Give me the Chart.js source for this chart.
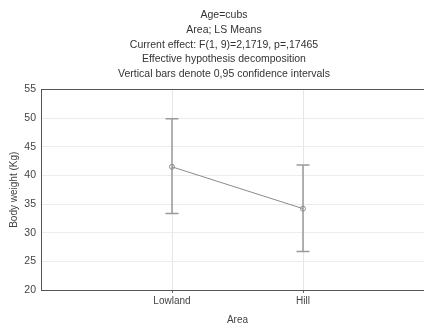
<!DOCTYPE html>
<html><head><meta charset="utf-8">
<script src="https://cdn.jsdelivr.net/npm/chart.js@4"></script>
<style>html,body{margin:0;padding:0;background:#fff;overflow:hidden;width:424px;height:326px}#wrap{width:448px;height:326px}</style>
</head><body><div id="wrap"><canvas id="c" width="448" height="326"></canvas></div>
<script>
const categories = ['Lowland', 'Hill'];
const means = [41.5, 34.2];
const lowerCI = [33.35, 26.7];
const upperCI = [49.9, 41.8];
const titleLines = ['Age=cubs', 'Area; LS Means', 'Current effect: F(1, 9)=2,1719, p=,17465', 'Effective hypothesis decomposition', 'Vertical bars denote 0,95 confidence intervals'];
const yTicks = [20, 25, 30, 35, 40, 45, 50, 55];

const font = 'Liberation Sans, Arial, sans-serif';
const gray = '#8a8a8a';
const datasets = [{
  data: categories.map((c, i) => ({x: i, y: means[i]})),
  borderColor: gray, borderWidth: 1, pointRadius: 2.5, pointBorderColor: gray,
  pointBackgroundColor: 'rgba(0,0,0,0)', pointBorderWidth: 1, showLine: true, order: 0
}];
categories.forEach((c, i) => {
  datasets.push({
    data: [{x: i, y: lowerCI[i]}, {x: i, y: upperCI[i]}],
    borderColor: '#9a9a9a', borderWidth: 1.5, showLine: true,
    pointStyle: 'line', pointRadius: 6.5, pointBorderColor: '#9a9a9a', pointBorderWidth: 1.5, order: 1
  });
});

new Chart(document.getElementById('c'), {
  type: 'scatter',
  data: {datasets},
  options: {
    responsive: false, animation: false,
    layout: {padding: {left: 14, right: 14, top: 0, bottom: 0}},
    plugins: {
      legend: {display: false}, tooltip: {enabled: false},
      title: {display: true, text: titleLines, color: '#333', font: {family: font, size: 10.5, weight: 'normal', lineHeight: 1.4}, padding: {top: 8, bottom: 8}}
    },
    scales: {
      x: {
        type: 'linear', min: -1, max: 2,
        afterBuildTicks: s => { s.ticks = categories.map((c, i) => ({value: i})); },
        afterFit: s => { s.height = 36; },
        ticks: {callback: v => categories[v], color: '#444', font: {family: font, size: 10}, padding: 2},
        grid: {color: '#e6e6e6', tickColor: '#666', tickLength: 3, drawTicks: true},
        border: {color: '#555', width: 1},
        title: {display: true, text: 'Area', color: '#444', font: {family: font, size: 10}, padding: {top: 4, bottom: 0}}
      },
      y: {
        min: 20, max: 55,
        afterBuildTicks: s => { s.ticks = yTicks.map(v => ({value: v})); },
        afterFit: s => { s.width = 27; },
        ticks: {color: '#444', font: {family: font, size: 10.5}, padding: 5},
        grid: {color: ctx => ctx.tick && ctx.tick.value === 55 ? '#555' : '#ececec', drawTicks: false},
        border: {color: '#555', width: 1},
        title: {display: true, text: 'Body weight (Kg)', color: '#444', font: {family: font, size: 10}, padding: {top: -6, bottom: 2}}
      }
    }
  }
});
</script></body></html>
